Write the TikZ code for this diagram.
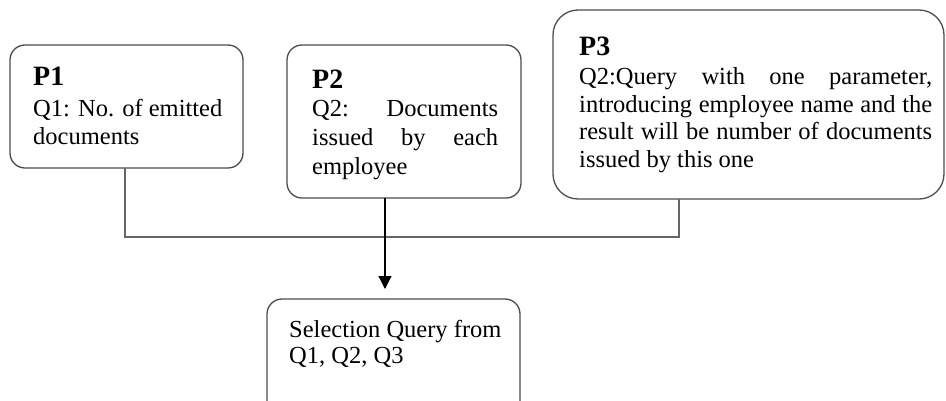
\documentclass[tikz,border=0pt]{standalone}
\usepackage{fontspec}
\setmainfont{Liberation Serif}
\usetikzlibrary{arrows.meta}
\begin{document}
\begin{tikzpicture}[x=1pt,y=-1pt,
  box/.style={draw=black!70, line width=1.3pt, rounded corners=15pt, outer sep=0pt, inner sep=0pt, anchor=north west},
  head/.style={anchor=base west, inner sep=0pt, font=\fontsize{28}{30}\selectfont\bfseries},
  body/.style={anchor=base west, inner sep=0pt, font=\fontsize{24.5}{28}\selectfont},
  conn/.style={draw=black!60, line width=1.8pt},
  arr/.style={draw=black, line width=1.2pt, -{Triangle[width=13pt,length=13pt]}, shorten >=10pt}]
\useasboundingbox (0,0) rectangle (946,401);
\clip (0,0) rectangle (946,401);
% boxes
\node[box, minimum width=233pt, minimum height=123pt] (p1) at (10,45) {};
\node[box, minimum width=234pt, minimum height=153pt] (p2) at (287,45) {};
\node[box, rounded corners=25pt, minimum width=391pt, minimum height=189pt] (p3) at (553,10) {};
\node[box, minimum width=253pt, minimum height=140pt] (sel) at (267,299) {};
% texts P1
\node[head] (p1h) at (33,86) {P1};
\node[body] (p1a) at (33,117) {Q1: No. of emitted};
\node[body] (p1b) at (33,145) {documents};
% texts P2
\node[head] (p2h) at (312,89) {P2};
\node[body] (p2a) at (312,117) {\hbox to 186pt{Q2:\hfill Documents}};
\node[body] (p2b) at (312,146) {\hbox to 186pt{issued\hfill by\hfill each}};
\node[body] (p2c) at (312,175) {employee};
% texts P3
\node[head] (p3h) at (579,56) {P3};
\node[body] (p3a) at (579,85) {\hbox to 353pt{Q2:Query\hfill with\hfill one\hfill parameter,}};
\node[body] (p3b) at (579,113) {\hbox to 353pt{introducing\hfill employee\hfill name\hfill and\hfill the}};
\node[body] (p3c) at (579,140) {\hbox to 353pt{result\hfill will\hfill be\hfill number\hfill of\hfill documents}};
\node[body] (p3d) at (579,168) {issued by this one};
% text selection
\node[body] (sela) at (289,337) {Selection Query from};
\node[body] (selb) at (289,363) {Q1, Q2, Q3};
% connectors
\coordinate (j1) at (125,237);
\coordinate (j3) at (679,237);
\draw[conn] (p1.south -| j1) -- (j1) -- (j3) -- (p3.south -| j3);
\draw[arr] (p2.south -| 385,0) -- (sel.north -| 385,0);
\end{tikzpicture}
\end{document}
